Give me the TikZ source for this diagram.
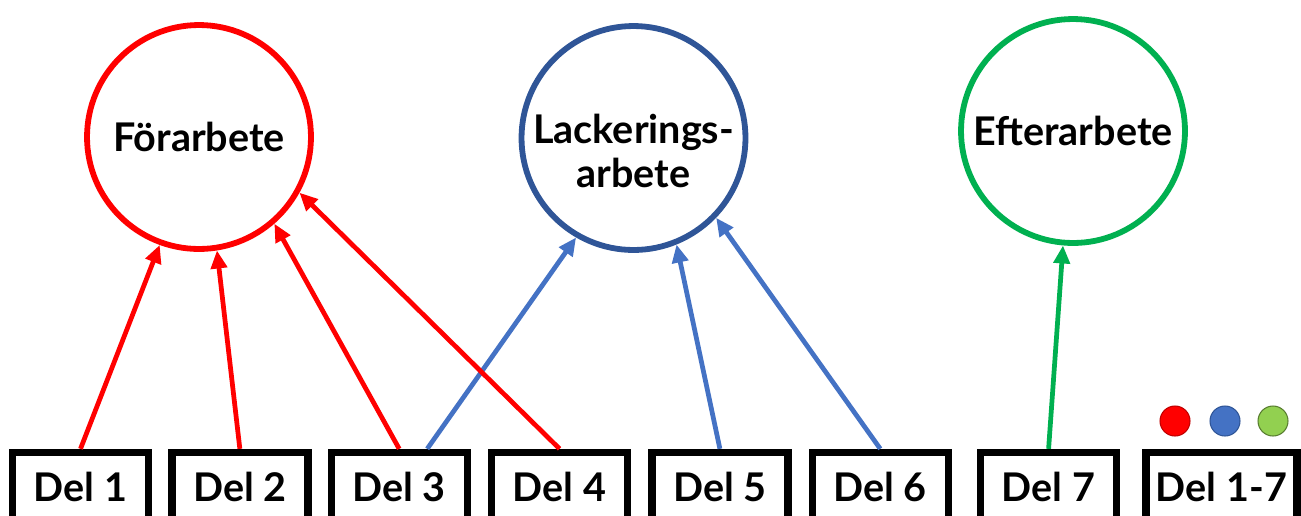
\documentclass[tikz,border=0pt]{standalone}
\usepackage{fontspec}
\setmainfont{Lato}
\usetikzlibrary{arrows.meta, positioning}
\definecolor{pre}{HTML}{FF0000}
\definecolor{paint}{HTML}{2F5597}
\definecolor{paintarrow}{HTML}{4472C4}
\definecolor{post}{HTML}{00B050}
\definecolor{postdot}{HTML}{92D050}
\tikzstyle{flow}=[line width=2.7pt, >={Triangle[length=3.6mm,width=3.2mm]}, font=\bfseries\fontsize{22.5}{25.5}\selectfont]
\tikzstyle{phase}=[circle, line width=3.3pt, minimum size=4.48cm, inner sep=0pt, align=center]
\tikzstyle{part}=[draw, line width=4.2pt, minimum width=2.72cm, minimum height=1.36cm, inner sep=0pt]
\tikzstyle{dot}=[circle, minimum size=0.6cm, inner sep=0pt, line width=0.6pt]

\begin{document}
\begin{tikzpicture}[flow, x=0.02cm, y=-0.02cm]
  \clip (0,0) rectangle (1301,515);
  % phases
  \node[phase,draw=pre] (forarb) at (199,137) {Förarbete};
  \node[phase,draw=paint,label={[align=center,yshift=-0.26cm]center:Lackerings-\\arbete}] (lack) at (633.5,138) {};
  \node[phase,draw=post] (efter) at (1073,131) {Efterarbete};
  % parts
  \node[part] (del1) at (80.5,486.5) {Del 1};
  \node[part] (del2) [right=0.32cm of del1] {Del 2};
  \node[part] (del3) [right=0.32cm of del2] {Del 3};
  \node[part] (del4) [right=0.34cm of del3] {Del 4};
  \node[part] (del5) [right=0.34cm of del4] {Del 5};
  \node[part] (del6) [right=0.34cm of del5] {Del 6};
  \node[part] (del7) [right=0.5cm of del6] {Del 7};
  \node[part,minimum width=3.02cm] (delall) [right=0.44cm of del7] {Del 1-7};
  \node[dot,fill=pre,draw=pre!75!black] (dotpre) at (1175,421) {};
  \node[dot,fill=paintarrow,draw=paint] (dotpaint) at (1225,421) {};
  \node[dot,fill=postdot,draw=postdot!60!black] (dotpost) at (1273,421) {};
  % arrows
  \draw[->,paintarrow] ([xshift=0.56cm]del3.north) -- (lack.-120);
  \draw[->,paintarrow] (del5.north) -- (lack.-68);
  \draw[->,paintarrow] (del6.north) -- (lack.-44);
  \draw[->,pre] (del1.north) -- (forarb.-110);
  \draw[->,pre] (del2.north) -- (forarb.-81);
  \draw[->,pre] (del3.north) -- (forarb.-49);
  \draw[->,pre] (del4.north) -- (forarb.-29);
  \draw[->,post] (del7.north) -- (efter.-95);
\end{tikzpicture}
\end{document}
